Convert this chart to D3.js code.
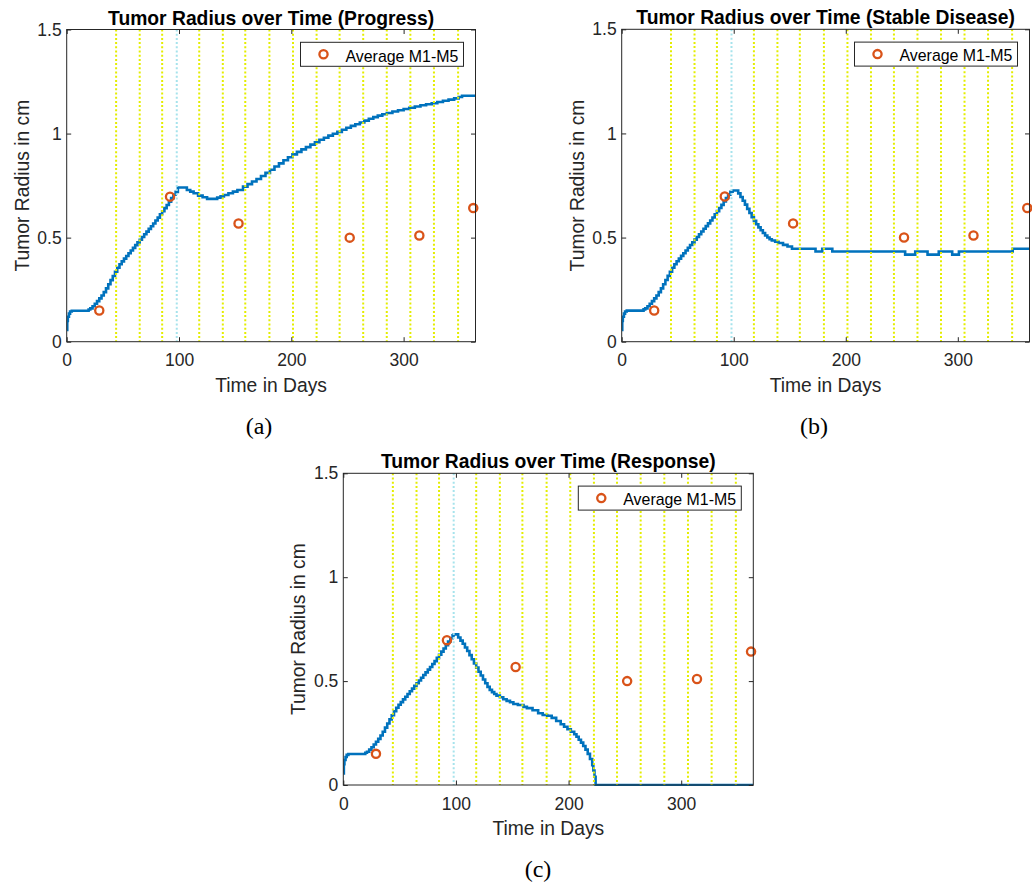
<!DOCTYPE html>
<html>
<head>
<meta charset="utf-8">
<script src="https://cdn.jsdelivr.net/npm/d3@7"></script>
<style>
  html, body { margin: 0; padding: 0; background: #ffffff; }
  svg { display: block; }
</style>
</head>
<body>
<svg id="chart" width="1032" height="885"></svg>
<script>
// ---------------- DATA ----------------
const xTicks = [0, 100, 200, 300];
const yTicks = [0, 0.5, 1, 1.5];
const yTickLabels = ["0", "0.5", "1", "1.5"];
const xDomain = [0, 364];
const yDomain = [0, 1.5];

// dotted yellow vertical markers (days) and the cyan marker
const treatmentDays = [44, 65, 85, 118, 139, 159, 180.5, 201.5, 222.5, 243, 264, 285, 306, 327, 348.5];
const cyanDay = [98];

// measured averages M1-M5
const avgDays = [29, 92, 153, 252, 314, 362];
const avgValues = [0.15, 0.697, 0.568, 0.50, 0.51, 0.642];

// shared growth phase (day, radius cm)
const growthPhase = [[0,0.056],[0.5,0.10],[1,0.12],[2,0.135],[3,0.145],[4.5,0.149],[19.5,0.155],[21,0.160],[23,0.170],[25,0.182],[27,0.195],[29,0.208],[31,0.222],[33,0.238],[35,0.256],[37,0.276],[39,0.296],[41,0.316],[43,0.336],[45,0.355],[47,0.372],[49,0.386],[51,0.399],[53,0.412],[55,0.425],[57,0.438],[59,0.451],[61,0.464],[63,0.477],[65,0.490],[67,0.503],[69,0.516],[71,0.529],[73,0.542],[75,0.555],[77,0.568],[79,0.582],[81,0.596],[83,0.612],[85,0.627],[87,0.642],[89,0.657],[91,0.673],[93,0.690],[95,0.706],[97,0.720]];

const progressTail = [[99,0.741],[107,0.729],[110,0.721],[113,0.713],[117,0.702],[121,0.694],[125,0.686],[134,0.692],[137,0.698],[140,0.705],[144,0.713],[148,0.721],[152,0.729],[157,0.745],[161,0.757],[165,0.770],[169,0.782],[173,0.796],[177,0.811],[181,0.826],[185,0.842],[189,0.857],[193,0.872],[197,0.886],[201,0.900],[205,0.912],[209,0.924],[213,0.935],[217,0.947],[221,0.958],[225,0.970],[229,0.980],[233,0.990],[237,0.999],[241,1.008],[245,1.018],[249,1.028],[253,1.037],[257,1.045],[261,1.053],[265,1.062],[269,1.071],[273,1.079],[277,1.086],[281,1.093],[285,1.099],[290,1.106],[295,1.112],[300,1.118],[305,1.124],[310,1.130],[315,1.136],[320,1.141],[325,1.146],[330,1.152],[335,1.158],[340,1.163],[345,1.169],[349,1.176],[352,1.182],[364,1.182]];

const stableTail = [[99,0.726],[104,0.712],[106,0.695],[108,0.677],[110,0.658],[112,0.638],[114,0.618],[116,0.598],[118,0.580],[120,0.564],[122,0.549],[124,0.535],[126,0.522],[128,0.510],[130,0.500],[132,0.492],[134,0.486],[137,0.480],[140,0.474],[144,0.465],[148,0.457],[152,0.446],[173,0.433],[179,0.446],[188,0.433],[253,0.418],[262,0.433],[273,0.418],[283,0.433],[295,0.418],[301,0.433],[349,0.446],[364,0.446]];

const responseTail = [[98,0.725],[102,0.71],[104,0.695],[106,0.68],[108,0.662],[110,0.645],[112,0.625],[114,0.605],[116,0.585],[118,0.565],[120,0.545],[122,0.527],[124,0.508],[126,0.49],[128,0.472],[130,0.458],[132,0.447],[134,0.438],[136,0.43],[139,0.422],[142,0.413],[145,0.405],[148,0.398],[151,0.39],[155,0.385],[160,0.376],[163,0.37],[168,0.36],[173,0.345],[177,0.337],[181,0.333],[185,0.323],[189,0.308],[193,0.292],[196,0.28],[199,0.268],[202,0.256],[205,0.244],[207,0.232],[209,0.218],[211,0.204],[213,0.188],[215,0.17],[217,0.15],[219,0.125],[221,0.095],[222,0.07],[223,0.04],[224,0],[364,0]];

const titles = ["Tumor Radius over Time (Progress)", "Tumor Radius over Time (Stable Disease)", "Tumor Radius over Time (Response)"];
const captions = ["(a)", "(b)", "(c)"];
const tails = [progressTail, stableTail, responseTail];
const legendLabel = "Average M1-M5";
const xLabel = "Time in Days";
const yLabel = "Tumor Radius in cm";

// ---------------- LAYOUT ----------------
const panels = [
  { left: 66.7, top: 29.5, right: 475.5, bottom: 341.7, capX: 259, capY: 434 },
  { left: 621.7, top: 29.3, right: 1029.5, bottom: 341.7, capX: 814, capY: 434 },
  { left: 343.3, top: 473.3, right: 753.3, bottom: 785, capX: 538, capY: 877 }
];

const FONT = "'Liberation Sans', Arial, Helvetica, sans-serif";
const TXT = "#262626";
const BLUE = "#0072BD";
const ORANGE = "#D95319";
const YEL = "#e4ee00";
const CYAN = "#a6e3ec";

const svg = d3.select("#chart");
svg.append("rect").attr("width", 1032).attr("height", 885).attr("fill", "#fff");

panels.forEach((p, i) => {
  const g = svg.append("g");
  const x = d3.scaleLinear().domain(xDomain).range([p.left, p.right]);
  const y = d3.scaleLinear().domain(yDomain).range([p.bottom, p.top]);

  const clipId = "clip" + i;
  svg.append("clipPath").attr("id", clipId).append("rect")
    .attr("x", p.left).attr("y", p.top - 1)
    .attr("width", p.right - p.left).attr("height", p.bottom - p.top + 2);

  const series = growthPhase.concat(tails[i]);
  const line = d3.line().x(d => x(d[0])).y(d => y(d[1])).curve(d3.curveStepAfter);

  g.append("path").datum(series)
    .attr("d", line)
    .attr("fill", "none")
    .attr("stroke", BLUE)
    .attr("stroke-width", 2.6)
    .attr("stroke-linejoin", "miter")
    .attr("clip-path", `url(#${clipId})`);

  // vertical markers
  g.selectAll(".tline").data(treatmentDays).enter().append("line")
    .attr("x1", d => x(d)).attr("x2", d => x(d))
    .attr("y1", p.top).attr("y2", p.bottom)
    .attr("stroke", YEL).attr("stroke-width", 2)
    .attr("stroke-dasharray", "2,2.2");
  g.selectAll(".cline").data(cyanDay).enter().append("line")
    .attr("x1", d => x(d)).attr("x2", d => x(d))
    .attr("y1", p.top).attr("y2", p.bottom)
    .attr("stroke", CYAN).attr("stroke-width", 2)
    .attr("stroke-dasharray", "2,2.2");

  // average markers
  g.selectAll(".avg").data(avgDays).enter().append("circle")
    .attr("cx", d => x(d)).attr("cy", (d, k) => y(avgValues[k]))
    .attr("r", 4.1)
    .attr("fill", "none").attr("stroke", ORANGE).attr("stroke-width", 2.3);

  // box
  g.append("rect")
    .attr("x", p.left).attr("y", p.top)
    .attr("width", p.right - p.left).attr("height", p.bottom - p.top)
    .attr("fill", "none").attr("stroke", "#262626").attr("stroke-width", 1);

  // axes
  const tl = 4.5;
  const ax = g.append("g").attr("transform", `translate(0,${p.bottom})`)
    .call(d3.axisBottom(x).tickValues(xTicks).tickFormat(d3.format("d")).tickSizeInner(-tl).tickSizeOuter(0).tickPadding(12.2));
  const axT = g.append("g").attr("transform", `translate(0,${p.top})`)
    .call(d3.axisTop(x).tickValues(xTicks).tickFormat("").tickSizeInner(-tl).tickSizeOuter(0));
  const ay = g.append("g").attr("transform", `translate(${p.left},0)`)
    .call(d3.axisLeft(y).tickValues(yTicks).tickFormat((d, k) => yTickLabels[k]).tickSizeInner(-tl).tickSizeOuter(0).tickPadding(5));
  const ayR = g.append("g").attr("transform", `translate(${p.right},0)`)
    .call(d3.axisRight(y).tickValues(yTicks).tickFormat("").tickSizeInner(-tl).tickSizeOuter(0));
  [ax, axT, ay, ayR].forEach(a => {
    a.select(".domain").remove();
    a.selectAll("line").attr("stroke", "#262626").attr("stroke-width", 1);
    a.selectAll("text").attr("fill", TXT).style("font-family", FONT).style("font-size", "17.5px");
  });

  // title
  g.append("text")
    .attr("x", (p.left + p.right) / 2).attr("y", p.top - 5)
    .attr("text-anchor", "middle")
    .style("font-family", FONT).style("font-size", "19.3px").style("font-weight", "bold")
    .attr("fill", "#000").text(titles[i]);

  // axis labels
  g.append("text")
    .attr("x", (p.left + p.right) / 2).attr("y", p.bottom + 49.8)
    .attr("text-anchor", "middle")
    .style("font-family", FONT).style("font-size", "19.3px")
    .attr("fill", TXT).text(xLabel);
  g.append("text")
    .attr("transform", `translate(${p.left - 38.2},${(p.top + p.bottom) / 2}) rotate(-90)`)
    .attr("text-anchor", "middle")
    .style("font-family", FONT).style("font-size", "19.3px")
    .attr("fill", TXT).text(yLabel);

  // legend
  const lw = 163, lh = 24;
  const lx = p.right - 12 - lw, ly = p.top + 12.8;
  const lg = g.append("g");
  lg.append("rect").attr("x", lx).attr("y", ly).attr("width", lw).attr("height", lh)
    .attr("fill", "#fff").attr("stroke", "#262626").attr("stroke-width", 1);
  lg.append("circle").attr("cx", lx + 23).attr("cy", ly + lh / 2).attr("r", 4.1)
    .attr("fill", "none").attr("stroke", ORANGE).attr("stroke-width", 2.3);
  lg.append("text").attr("x", lx + 45).attr("y", ly + 19.2)
    .style("font-family", FONT).style("font-size", "15.9px")
    .attr("fill", "#000").text(legendLabel);

  // caption
  svg.append("text")
    .attr("x", p.capX).attr("y", p.capY)
    .attr("text-anchor", "middle")
    .style("font-family", "'Liberation Serif', 'Times New Roman', serif").style("font-size", "24px")
    .attr("fill", "#000").text(captions[i]);
});
</script>
</body>
</html>
